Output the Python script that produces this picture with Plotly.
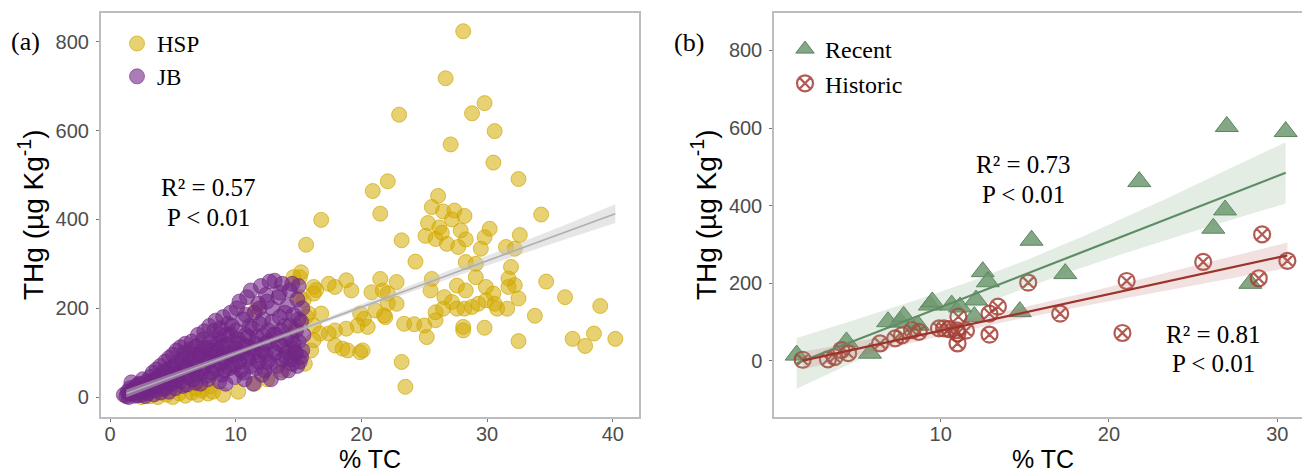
import numpy as np
import plotly.graph_objects as go

W, H = 1302, 472

# ---------------- Panel (a) data ----------------
hsp_x = [28.1, 26.7, 23.0, 29.8, 28.8, 27.1, 30.6, 30.5, 32.5, 22.1, 20.9, 21.5, 16.8, 34.3,
         26.1, 25.6, 26.5, 27.4, 28.2, 25.3, 26.2, 27.9, 25.1, 25.9, 26.8, 27.7, 28.3, 26.4, 27.2,
         23.2, 15.6, 30.2, 29.8, 29.5, 32.6, 31.5, 32.2,
         24.3, 28.3, 31.9, 34.7, 36.2, 39.0, 33.8,
         36.8, 37.8, 38.5, 40.2, 32.5, 29.8, 28.1, 28.1,
         23.4, 24.2, 25.0, 25.2, 25.9, 25.9, 23.2, 23.5,
         25.6, 25.5, 26.6, 26.5, 27.2, 27.6, 28.2, 28.8, 29.3, 29.9, 30.6, 30.8, 31.6, 32.5, 32.2,
         31.7, 31.7, 27.6, 28.3, 29.1, 29.9, 30.5, 29.1,
         15.1, 15.2, 14.6, 16.2, 17.4, 17.9, 18.8, 19.2, 20.8, 21.5, 21.7, 22.1, 22.8, 22.8, 21.1,
         20.2, 19.9, 19.7, 21.9, 17.9, 17.4, 17.9, 18.5, 18.9, 19.9, 16.8, 16.2, 15.8, 16.7, 16.0,
         15.5, 16.2, 18.8, 16.2, 15.4, 15.6, 16.4, 20.1, 21.8, 22.1, 20.5,
         3.2, 3.8, 4.5, 5.0, 5.5, 6.0, 6.5, 7.0, 7.3, 7.8, 8.2, 8.0, 6.8, 4.2, 2.5, 9.0, 10.2,
         11.5, 12.5, 13.8, 14.8, 15.1, 14.5, 11.6]
hsp_y = [824, 718, 636, 662, 639, 569, 599, 528, 491, 486, 464, 413, 399, 411,
         453, 428, 418, 420, 408, 392, 382, 375, 363, 356, 345, 338, 355, 370, 400,
         353, 343, 379, 360, 334, 365, 338, 334,
         305, 304, 293, 260, 225, 205, 183,
         131, 115, 143, 131, 126, 156, 158, 150,
         165, 164, 161, 135, 173, 191, 79, 23,
         266, 240, 225, 199, 214, 199, 199, 203, 210, 218, 210, 199, 199, 222, 252,
         267, 248, 251, 240, 270, 248, 233, 300,
         270, 281, 270, 248, 255, 248, 263, 240, 236, 266, 240, 233, 259, 210, 195,
         176, 188, 161, 180, 150, 143, 116, 109, 105, 101, 188, 233, 188, 143, 105,
         75, 161, 154, 128, 218, 181, 241, 105, 184, 211, 158,
         2, 0, 5, 0, 8, 3, 10, 5, 15, 8, 12, 25, 20, 10, 0, 5, 12,
         30, 40, 60, 158, 225, 110, 196]

jb_x = [1.1, 1.3, 1.4, 1.5, 1.6, 1.7, 1.8, 1.9, 2.0, 2.1,
        2.2, 2.3, 2.4, 2.5, 2.6, 2.7, 2.8, 2.9, 3.0, 3.0,
        3.2, 3.3, 3.4, 3.5, 3.6, 3.7, 3.8, 3.9, 4.0, 4.0,
        4.2, 4.3, 4.4, 4.5, 4.6, 4.7, 4.8, 4.9, 5.0, 5.0,
        5.2, 5.3, 5.4, 5.5, 5.6, 5.7, 5.8, 5.9, 6.0, 6.0,
        6.2, 6.3, 6.4, 6.5, 6.6, 6.7, 6.8, 6.9, 7.0, 7.0,
        7.2, 7.3, 7.4, 7.5, 7.6, 7.7, 7.8, 7.9, 8.0, 8.0,
        8.2, 8.3, 8.4, 8.5, 8.6, 8.7, 8.8, 8.9, 9.0, 9.0,
        9.1, 9.2, 9.3, 9.4, 9.5, 9.6, 9.7, 9.8, 9.9, 10.0,
        10.1, 10.2, 10.3, 10.4, 10.5, 10.6, 10.7, 10.8, 10.9, 11.0,
        11.1, 11.2, 11.3, 11.4, 11.5, 11.6, 11.7, 11.8, 11.9, 12.0,
        12.1, 12.2, 12.3, 12.4, 12.5, 12.6, 12.7, 12.8, 12.9, 13.0,
        13.1, 13.2, 13.3, 13.4, 13.5, 13.6, 13.7, 13.8, 13.9, 14.0,
        14.1, 14.2, 14.3, 14.4, 14.5, 14.6, 14.7, 14.8, 14.9, 15.0,
        15.1, 15.2, 15.3, 15.0, 15.4,
        1.5, 1.8, 2.2, 2.4, 2.6, 2.8, 3.1, 3.3, 3.5, 3.7,
        4.1, 4.3, 4.5, 4.7, 4.9, 5.1, 5.2, 5.4, 5.6, 5.8,
        6.1, 6.2, 6.4, 6.6, 6.8, 6.9, 7.1, 7.2, 7.4, 7.5,
        7.7, 7.9, 8.1, 8.1, 8.3, 8.5, 8.6, 8.8, 8.9, 9.0,
        9.2, 9.3, 9.5, 9.6, 9.8, 9.9, 10.0, 10.2, 10.3, 10.5,
        10.6, 10.8, 10.9, 11.0, 11.2, 11.3, 11.5, 11.6, 11.8, 11.9,
        12.1, 12.2, 12.3, 12.4, 12.6, 12.7, 12.9, 13.0, 13.2, 13.4,
        13.6, 13.7, 13.9, 14.0, 14.1, 14.3, 14.4, 14.6, 14.8, 15.0,
        15.2, 15.3, 14.9, 12.5, 11.9, 10.8, 9.7, 8.7, 13.5, 14.5]
jb_y = [5, 2, 12, 0, 20, 33, 8, 15, 3, 25,
        10, 30, 18, 5, 40, 22, 12, 35, 28, 8,
        45, 20, 55, 15, 38, 62, 28, 48, 10, 70,
        35, 58, 80, 22, 45, 88, 65, 30, 95, 52,
        75, 105, 40, 60, 112, 85, 25, 98, 70, 120,
        45, 88, 108, 125, 60, 95, 32, 115, 80, 140,
        100, 55, 130, 148, 85, 112, 40, 160, 95, 125,
        70, 150, 172, 105, 130, 35, 155, 90, 180, 115,
        60, 30, 140, 165, 100, 190, 75, 125, 45, 150,
        200, 95, 215, 60, 120, 175, 40, 140, 225, 85,
        160, 240, 110, 30, 190, 65, 135, 210, 95, 250,
        50, 175, 120, 230, 80, 150, 260, 40, 200, 105,
        262, 140, 70, 225, 180, 55, 255, 115, 160, 90,
        205, 60, 240, 130, 75, 185, 100, 150, 220, 125,
        80, 170, 105, 250, 140,
        8, 18, 4, 28, 14, 2, 20, 36, 6, 25,
        42, 18, 55, 12, 38, 68, 20, 50, 35, 75,
        28, 60, 85, 40, 70, 50, 95, 30, 65, 110,
        48, 80, 105, 55, 90, 62, 120, 75, 50, 100,
        85, 118, 65, 140, 95, 70, 110, 130, 80, 100,
        55, 115, 90, 135, 70, 155, 100, 120, 80, 165,
        105, 140, 60, 95, 125, 75, 170, 140, 100, 120,
        150, 85, 190, 130, 100, 160, 85, 120, 100, 175,
        90, 200, 70, 215, 200, 185, 160, 140, 235, 255]

# overall fit of panel (a) (line ends and 95% band)
fit_a_x = [1.3, 40.2]
fit_a_y = [8, 413]
band_a_x = [1.3, 6, 12, 18, 24, 30, 36, 40.2]
band_a_lo = [-1, 51, 115, 177, 237, 296, 353, 392]
band_a_hi = [17, 63, 124, 187, 252, 318, 385, 434]

# ---------------- Panel (b) data ----------------
recent_x = [1.44, 4.4, 5.8, 6.87, 7.6, 7.8, 8.65, 9.36, 9.5, 10.65, 11.15, 12.0, 12.1, 12.5,
            12.8, 14.7, 15.4, 17.4, 21.8, 26.2, 26.9, 28.4, 27.0, 30.5]
recent_y = [15, 49, 20, 101, 100, 115, 92, 144, 152, 144, 139, 114, 157, 230,
            204, 127, 311, 225, 462, 342, 389, 200, 604, 591]

historic_x = [1.8, 3.3, 3.7, 4.1, 4.5, 6.4, 7.3, 7.7, 8.3, 8.7, 9.9, 10.2, 10.5, 10.95, 11.0,
              11.0, 11.05, 11.5, 12.9, 12.9, 13.4, 15.2, 17.1, 21.05, 20.8, 25.6, 29.1, 28.9, 30.6]
historic_y = [3, 4, 10, 28, 20, 45, 58, 66, 79, 75, 84, 84, 82, 79, 45,
              71, 114, 78, 122, 68, 140, 202, 122, 206, 72, 255, 326, 213, 258]

labels_a = ["HSP", "JB"]
labels_b = ["Recent", "Historic"]
stats_a = ["R² = 0.57", "P < 0.01"]
stats_recent = ["R² = 0.73", "P < 0.01"]
stats_historic = ["R² = 0.81", "P < 0.01"]


def lm_band(x, y, t):
    x = np.asarray(x, float)
    y = np.asarray(y, float)
    n = len(x)
    b, a = np.polyfit(x, y, 1)
    xs = np.linspace(x.min(), x.max(), 120)
    fit = a + b * xs
    resid = y - (a + b * x)
    s = np.sqrt((resid ** 2).sum() / (n - 2))
    sxx = ((x - x.mean()) ** 2).sum()
    se = s * np.sqrt(1.0 / n + (xs - x.mean()) ** 2 / sxx)
    return xs, fit, fit - t * se, fit + t * se


SERIF = "Liberation Serif"
SANS = "Liberation Sans"

ML, MR, MT, MB = 0, 0, 13, 55
PH = H - MT - MB


def px_x(px):
    return px / W


def px_y(py):
    return (H - MB - py) / PH


fig = go.Figure()

# Panel (a) points
fig.add_trace(go.Scatter(
    x=hsp_x, y=hsp_y, mode="markers", name=labels_a[0], legend="legend",
    marker=dict(size=15, color="rgba(212,172,0,0.55)",
                line=dict(color="rgba(205,165,0,0.65)", width=1)),
    xaxis="x", yaxis="y"))
fig.add_trace(go.Scatter(
    x=jb_x, y=jb_y, mode="markers", name=labels_a[1], legend="legend",
    marker=dict(size=15, color="rgba(114,38,134,0.6)",
                line=dict(color="rgba(114,38,134,0.6)", width=1)),
    xaxis="x", yaxis="y"))

# Panel (a) regression
fig.add_trace(go.Scatter(
    x=band_a_x + band_a_x[::-1], y=band_a_lo + band_a_hi[::-1],
    fill="toself", fillcolor="rgba(200,200,200,0.45)", line=dict(width=0),
    mode="lines", showlegend=False, hoverinfo="skip", xaxis="x", yaxis="y"))
fig.add_trace(go.Scatter(
    x=fit_a_x, y=fit_a_y, mode="lines", line=dict(color="rgb(175,175,175)", width=1.6),
    showlegend=False, xaxis="x", yaxis="y"))

# Panel (b) points
fig.add_trace(go.Scatter(
    x=recent_x, y=recent_y, mode="markers", name=labels_b[0], legend="legend2",
    marker=dict(symbol="triangle-up", size=20, color="rgba(110,152,112,0.85)",
                line=dict(color="rgba(92,132,96,1)", width=1)),
    xaxis="x2", yaxis="y2"))
fig.add_trace(go.Scatter(
    x=historic_x, y=historic_y, mode="markers", name=labels_b[1], legend="legend2",
    marker=dict(symbol="circle-x-open", size=16, color="rgba(165,62,52,0.85)",
                line=dict(width=2.2)),
    xaxis="x2", yaxis="y2"))

# Panel (b) regressions
for xv, yv, band_col, line_col in [
        (recent_x, recent_y, "rgba(120,165,122,0.2)", "rgb(94,140,100)"),
        (historic_x, historic_y, "rgba(190,105,105,0.2)", "rgb(155,52,42)")]:
    xs, fit, lo, hi = lm_band(xv, yv, 2.06)
    fig.add_trace(go.Scatter(
        x=np.concatenate([xs, xs[::-1]]), y=np.concatenate([lo, hi[::-1]]),
        fill="toself", fillcolor=band_col, line=dict(width=0),
        mode="lines", showlegend=False, hoverinfo="skip", xaxis="x2", yaxis="y2"))
    fig.add_trace(go.Scatter(
        x=xs, y=fit, mode="lines", line=dict(color=line_col, width=2.2),
        showlegend=False, xaxis="x2", yaxis="y2"))

axis_common = dict(showgrid=False, zeroline=False, showline=True, linecolor="#BDBDBD",
                   linewidth=1.5, ticks="outside", ticklen=3, tickcolor="#777",
                   tickwidth=1, tickfont=dict(family=SANS, size=20, color="#4D4D4D"))
xax = dict(axis_common, ticklabelstandoff=-5)
yax = dict(axis_common, ticklabelstandoff=3)

fig.update_layout(
    width=W, height=H,
    margin=dict(l=ML, r=MR, t=MT, b=MB, autoexpand=False),
    paper_bgcolor="white", plot_bgcolor="white",
    xaxis=dict(domain=[100.7 / W, 638.7 / W], range=[-0.74, 42.06],
               tickvals=[0, 10, 20, 30, 40], mirror=True, anchor="y", **xax),
    yaxis=dict(domain=[0, 1], range=[-45, 865], tickvals=[0, 200, 400, 600, 800],
               mirror=True, anchor="x", **yax),
    xaxis2=dict(domain=[774 / W, 1.0], range=[0.095, 31.47], tickvals=[10, 20, 30],
                mirror=True, anchor="y2", **xax),
    yaxis2=dict(domain=[0, 1], range=[-144.5, 896.5], tickvals=[0, 200, 400, 600, 800],
                mirror=False, anchor="x2", **yax),
    legend=dict(x=px_x(117), y=px_y(22), xref="paper", yref="paper",
                xanchor="left", yanchor="top", bgcolor="rgba(0,0,0,0)",
                font=dict(family=SERIF, size=23, color="black")),
    legend2=dict(x=px_x(785), y=px_y(27), xref="paper", yref="paper",
                 xanchor="left", yanchor="top", bgcolor="rgba(0,0,0,0)",
                 font=dict(family=SERIF, size=24, color="black")),
    showlegend=True,
)

ann = []
C = dict(xanchor="center", yanchor="middle", showarrow=False)
# statistics text (data coordinates)
ann.append(dict(x=7.8, y=471, xref="x", yref="y", text=stats_a[0],
                font=dict(family=SERIF, size=25, color="black"), **C))
ann.append(dict(x=7.8, y=405, xref="x", yref="y", text=stats_a[1],
                font=dict(family=SERIF, size=25, color="black"), **C))
ann.append(dict(x=14.95, y=505, xref="x2", yref="y2", text=stats_recent[0],
                font=dict(family=SERIF, size=25, color="black"), **C))
ann.append(dict(x=14.95, y=428, xref="x2", yref="y2", text=stats_recent[1],
                font=dict(family=SERIF, size=25, color="black"), **C))
ann.append(dict(x=26.24, y=69, xref="x2", yref="y2", text=stats_historic[0],
                font=dict(family=SERIF, size=25, color="black"), **C))
ann.append(dict(x=26.24, y=-7, xref="x2", yref="y2", text=stats_historic[1],
                font=dict(family=SERIF, size=25, color="black"), **C))
# panel tags
ann.append(dict(x=px_x(25), y=px_y(42), xref="paper", yref="paper", text="(a)",
                font=dict(family=SERIF, size=26, color="black"), **C))
ann.append(dict(x=px_x(689), y=px_y(43), xref="paper", yref="paper", text="(b)",
                font=dict(family=SERIF, size=26, color="black"), **C))
# axis titles
ytitle = "THg (µg Kg<sup>-1</sup>)"
for cx in (31, 704):
    ann.append(dict(x=px_x(cx), y=px_y(215), xref="paper", yref="paper", text=ytitle,
                    textangle=-90, font=dict(family=SANS, size=28, color="black"), **C))
for cx in (369.7, 1043):
    ann.append(dict(x=px_x(cx), y=px_y(459), xref="paper", yref="paper", text="% TC",
                    font=dict(family=SANS, size=25, color="black"), **C))

fig.update_layout(annotations=ann)

fig.write_html("out.html")
